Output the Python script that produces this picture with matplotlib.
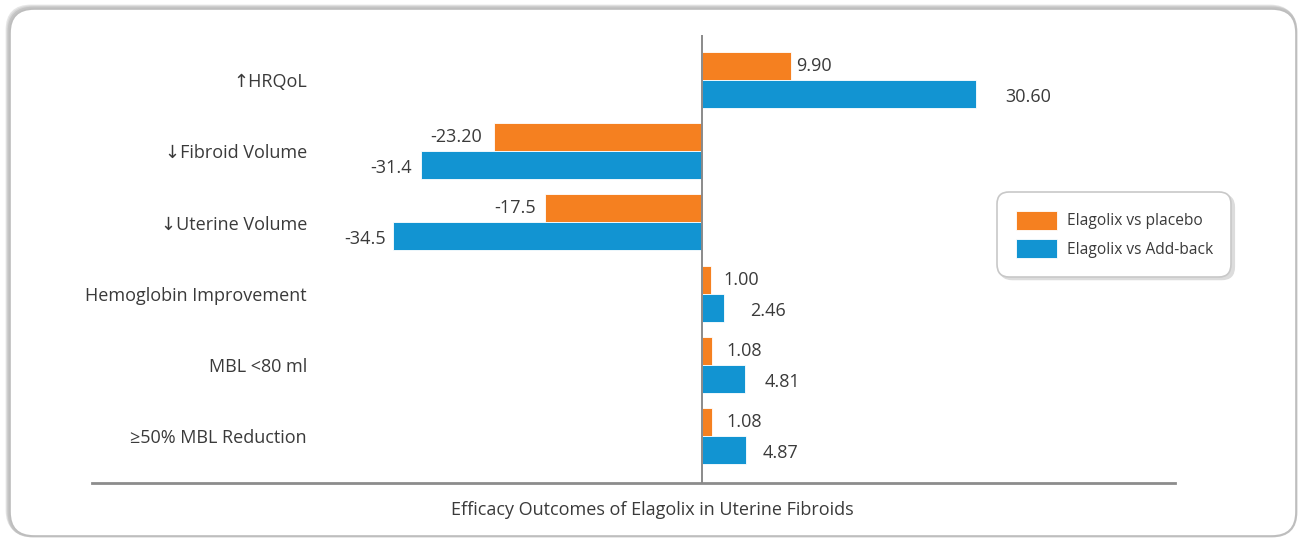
import matplotlib
matplotlib.use("Agg")
import matplotlib.pyplot as plt
from matplotlib.patches import FancyBboxPatch
import numpy as np

plt.rcParams['font.family'] = ['Open Sans', 'DejaVu Sans']

# data
categories = ['\u2191HRQoL', '\u2193Fibroid Volume', '\u2193Uterine Volume',
              'Hemoglobin Improvement', 'MBL <80 ml', '\u226550% MBL Reduction']
placebo = [9.90, -23.20, -17.5, 1.00, 1.08, 1.08]
addback = [30.60, -31.4, -34.5, 2.46, 4.81, 4.87]
placebo_txt = ['9.90', '-23.20', '-17.5', '1.00', '1.08', '1.08']
addback_txt = ['30.60', '-31.4', '-34.5', '2.46', '4.81', '4.87']
series_names = ['Elagolix vs placebo', 'Elagolix vs Add-back']
title = 'Efficacy Outcomes of Elagolix in Uterine Fibroids'

# label nudges (pixels) to sit like the original
placebo_dx = [6, -12, -10, 12, 15, 15]
addback_dx = [29, -9, -7, 26, 20, 17]

orange = '#F58020'
blue = '#1294D2'
txtc = '#3a3a3a'
fs = 13

W, H = 1299, 538
fig = plt.figure(figsize=(W / 100, H / 100), dpi=100)

# background frame with soft shadow
bg = fig.add_axes([0, 0, 1, 1], zorder=-5)
bg.set_xlim(0, W)
bg.set_ylim(H, 0)
bg.axis('off')
for i, c in enumerate(['#e6e6e6', '#d6d6d6', '#c4c4c4']):
    bg.add_patch(FancyBboxPatch((9 - 2 + i, 8 - 2 + i), 1287, 528,
                                boxstyle='round,pad=0,rounding_size=24',
                                fc='none', ec=c, lw=2))
bg.add_patch(FancyBboxPatch((10, 9), 1286, 527, boxstyle='round,pad=0,rounding_size=24',
                            fc='white', ec='#bdbdbd', lw=1.2))

ax = fig.add_axes([92 / W, 1 - 483 / H, 1083 / W, 448 / H])
ax.patch.set_alpha(0)
y = np.arange(len(categories))
h = 0.393
ax.barh(y - h / 2, placebo, height=h, color=orange, ec='white', lw=0.6, label=series_names[0])
ax.barh(y + h / 2, addback, height=h, color=blue, ec='white', lw=0.6, label=series_names[1])

ax.set_xlim(-68.16, 52.85)
ax.set_ylim(5.66, -0.632)
ax.axvline(0, color='#8a8a8a', lw=1.4, zorder=3)

for s in ['top', 'left', 'right']:
    ax.spines[s].set_visible(False)
ax.spines['bottom'].set_color('#8c8c8c')
ax.spines['bottom'].set_linewidth(2)
ax.set_xticks([])
ax.set_yticks([])

for i in range(len(categories)):
    ax.text(0.1985, y[i] + 0.03, categories[i], transform=ax.get_yaxis_transform(),
            ha='right', va='center', fontsize=fs, color=txtc)
    for val, txt, dx, yy, dy in [(placebo[i], placebo_txt[i], placebo_dx[i], y[i] - h / 2, 0),
                                 (addback[i], addback_txt[i], addback_dx[i], y[i] + h / 2, -3)]:
        ax.annotate(txt, (val, yy), xytext=(dx * 0.72, dy * 0.72), textcoords='offset points',
                    ha='left' if dx > 0 else 'right', va='center', fontsize=fs, color=txtc)

leg = ax.legend(loc='upper left', bbox_to_anchor=(997 / W, 1 - 192 / H),
                bbox_transform=fig.transFigure, borderaxespad=0, fontsize=11.2,
                frameon=True, fancybox=True, handlelength=2.63, handleheight=1.5,
                handletextpad=0.64, labelspacing=0.6, borderpad=1.2,
                labelcolor=txtc, edgecolor='#c8c8c8',
                shadow={'color': '#dcdcdc', 'alpha': 1})
leg.legendPatch.set_boxstyle('round', pad=0, rounding_size=0.8)
leg.get_frame().set_linewidth(1.2)

fig.text(652 / W, 1 - 510 / H, title, ha='center', va='center', fontsize=fs, color=txtc)

fig.savefig('out.png', dpi=100)
